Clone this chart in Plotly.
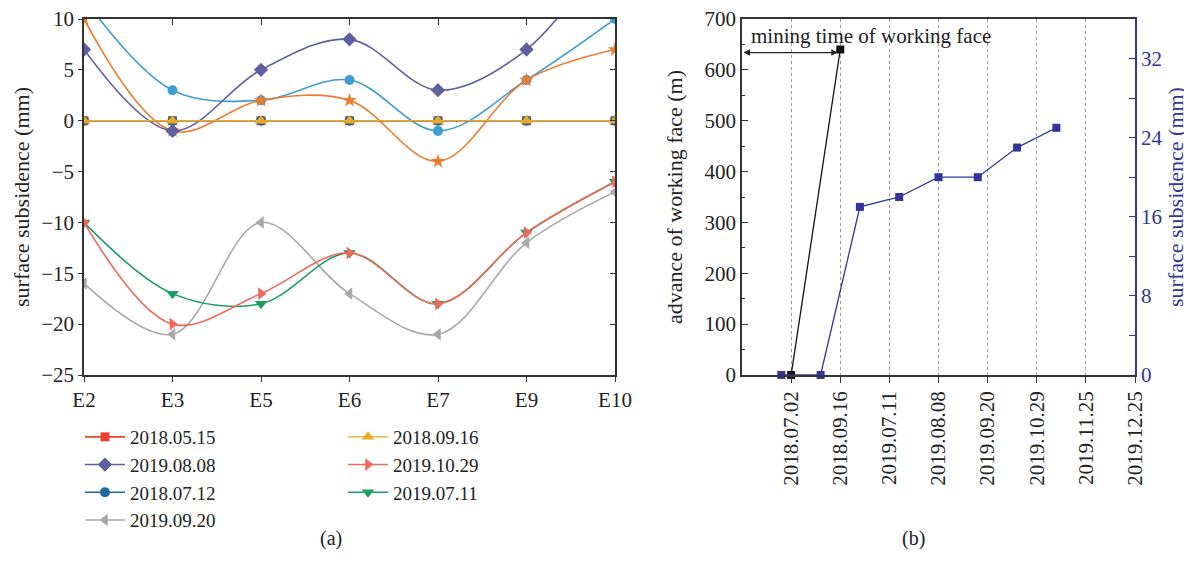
import plotly.graph_objects as go

# ---------------- data: panel (a) ----------------
points = ["E2", "E3", "E5", "E6", "E7", "E9", "E10"]
s_20180515 = [0, 0, 0, 0, 0, 0, 0]
s_20190808 = [7, -1, 5, 8, 3, 7, 18]
s_20180712 = [0, 0, 0, 0, 0, 0, 0]
s_20190920 = [-16, -21, -10, -17, -21, -12, -7]
s_20180916 = [0, 0, 0, 0, 0, 0, 0]
s_20191029 = [-10, -20, -17, -13, -18, -11, -6]
s_20190711 = [-10, -17, -18, -13, -18, -11, -6]
s_extra_blue = [12, 3, 2, 4, -1, 4, 10]
s_extra_orange = [10, -1, 2, 2, -4, 4, 7]

# ---------------- data: panel (b) ----------------
date_labels = ["2018.07.02", "2018.09.16", "2019.07.11", "2019.08.08",
               "2019.09.20", "2019.10.29", "2019.11.25", "2019.12.25"]
date_pos = [1, 2, 3, 4, 5, 6, 7, 8]
advance_x = [1.0, 2.0]
advance_m = [0, 640]
subs_x = [0.8, 1.6, 2.4, 3.2, 4.0, 4.8, 5.6, 6.4]
subs_mm = [0, 0, 17, 18, 20, 20, 23, 25]

FONT = "Liberation Serif"
AX = "#333333"
BLUE = "#333399"
TXT = "#222222"

fig = go.Figure()

def add_series(y, name, color, symbol, size, legend=None, rank=1000, show=True, width=1.6):
    fig.add_trace(go.Scatter(
        x=points, y=y, name=name, mode="lines+markers",
        line=dict(color=color, width=width, shape="spline", smoothing=1.0),
        marker=dict(symbol=symbol, size=size, color=color),
        showlegend=show, legend=legend, legendrank=rank,
        xaxis="x", yaxis="y", cliponaxis=True))

add_series(s_extra_blue, "extra1", "#3c9dd3", "circle", 10, show=False)
add_series(s_extra_orange, "extra2", "#f07a2c", "star", 11, show=False)
add_series(s_20190808, "2019.08.08", "#5f5f9f", "diamond", 11, "legend", 2)
add_series(s_20190920, "2019.09.20", "#a9a9a9", "triangle-left", 11, "legend", 4)
add_series(s_20190711, "2019.07.11", "#1a9e62", "triangle-down", 11, "legend2", 3)
add_series(s_20191029, "2019.10.29", "#f06a5c", "triangle-right", 11, "legend2", 2)
add_series(s_20180515, "2018.05.15", "#e8402a", "square", 9, "legend", 1)
add_series(s_20180712, "2018.07.12", "#1f6c9c", "circle", 10, "legend", 3)
add_series(s_20180916, "2018.09.16", "#eaaa26", "triangle-up", 11, "legend2", 1, width=1.4)

# dummy traces to anchor mirror axes
fig.add_trace(go.Scatter(x=[None], y=[None], xaxis="x3", yaxis="y", showlegend=False, hoverinfo="skip"))
fig.add_trace(go.Scatter(x=[None], y=[None], xaxis="x", yaxis="y4", showlegend=False, hoverinfo="skip"))

# panel (b)
fig.add_trace(go.Scatter(
    x=advance_x, y=advance_m, mode="lines+markers", name="advance",
    line=dict(color="#111111", width=1.3),
    marker=dict(symbol="square", size=8, color="#111111"),
    xaxis="x2", yaxis="y2", showlegend=False, cliponaxis=False))
fig.add_trace(go.Scatter(
    x=subs_x, y=subs_mm, mode="lines+markers", name="subsidence",
    line=dict(color=BLUE, width=1.3),
    marker=dict(symbol="square", size=8, color=BLUE),
    xaxis="x2", yaxis="y3", showlegend=False, cliponaxis=False))

# page has an 8px body margin: lay out in screenshot pixels
OFF = 8
W, H = 1192 - OFF, 571 - OFF
def px(v): return (v - OFF) / W
def py(v): return 1 - (v - OFF) / H

ydom = [py(375), py(19)]
tickfont = dict(family=FONT, size=21, color=TXT)
titlefont = dict(family=FONT, size=22, color=TXT)

fig.update_layout(
    width=W, height=H,
    margin=dict(l=0, r=0, t=0, b=0, autoexpand=False),
    paper_bgcolor="white", plot_bgcolor="white",
    font=dict(family=FONT, size=20, color=TXT),
    xaxis=dict(domain=[px(84), px(615)], anchor="y", type="category",
               range=[0, 6], showline=True, linecolor=AX, linewidth=1.5,
               ticks="outside", ticklen=5, tickcolor=AX, tickfont=tickfont,
               showgrid=False, zeroline=False, automargin=False,
               ticklabeloverflow="allow"),
    xaxis3=dict(overlaying="x", side="top", anchor="y", type="linear",
                range=[0, 6], tickvals=[0, 1, 2, 3, 4, 5, 6],
                showticklabels=False, showline=True, linecolor=AX, linewidth=1.5,
                ticks="inside", ticklen=6, tickcolor=AX, showgrid=False, zeroline=False,
                automargin=False),
    yaxis=dict(domain=ydom, anchor="x", range=[-25, 10], dtick=5,
               showline=True, linecolor=AX, linewidth=1.5,
               ticks="outside", ticklen=4, tickcolor=AX, tickfont=tickfont,
               showgrid=False, zeroline=False, automargin=False,
               ticklabeloverflow="allow",
               title=dict(text="surface subsidence (mm)", font=titlefont, standoff=6)),
    yaxis4=dict(overlaying="y", side="right", anchor="x", range=[-25, 10], dtick=5,
                showticklabels=False, showline=True, linecolor=AX, linewidth=1.5,
                ticks="inside", ticklen=5, tickcolor=AX, showgrid=False, zeroline=False,
                automargin=False),
    xaxis2=dict(domain=[px(742), px(1135)], anchor="y2", range=[0, 8],
                tickvals=date_pos, ticktext=date_labels, tickangle=-90,
                showline=True, mirror=True, linecolor=AX, linewidth=1.5,
                ticks="outside", ticklen=6, tickcolor=AX, tickfont=tickfont,
                showgrid=True, gridcolor="#999999", griddash="dot", gridwidth=1,
                zeroline=False, automargin=False, ticklabeloverflow="allow"),
    yaxis2=dict(domain=ydom, anchor="x2", range=[0, 700], dtick=100,
                showline=True, linecolor=AX, linewidth=1.5,
                ticks="inside", ticklen=6, tickcolor=AX, tickfont=tickfont,
                minor=dict(dtick=50, ticks="inside", ticklen=3, tickcolor=AX),
                showgrid=False, zeroline=False, automargin=False,
                ticklabeloverflow="allow",
                title=dict(text="advance of working face (m)", font=titlefont, standoff=16)),
    yaxis3=dict(overlaying="y2", side="right", anchor="x2", range=[0, 36],
                tickvals=[0, 8, 16, 24, 32],
                showline=True, linecolor=BLUE, linewidth=1.5,
                ticks="inside", ticklen=6, tickcolor=BLUE,
                tickfont=dict(family=FONT, size=21, color=BLUE),
                minor=dict(tickvals=[4, 12, 20, 28], ticks="inside", ticklen=6, tickcolor=BLUE),
                showgrid=False, zeroline=False, automargin=False,
                ticklabeloverflow="allow",
                title=dict(text="surface subsidence (mm)",
                           font=dict(family=FONT, size=22, color=BLUE), standoff=6)),
    legend=dict(x=px(80), y=py(418), xanchor="left", yanchor="top",
                orientation="v", font=dict(family=FONT, size=19, color=TXT),
                bgcolor="rgba(0,0,0,0)", itemwidth=40, tracegroupgap=0),
    legend2=dict(x=px(343), y=py(418), xanchor="left", yanchor="top",
                 orientation="v", font=dict(family=FONT, size=19, color=TXT),
                 bgcolor="rgba(0,0,0,0)", itemwidth=40, tracegroupgap=0),
    showlegend=True,
)

fig.add_annotation(x=px(318), y=py(552), xref="paper", yref="paper",
                   text="(a)", showarrow=False, font=dict(family=FONT, size=20))
fig.add_annotation(x=px(927), y=py(552), xref="paper", yref="paper",
                   text="(b)", showarrow=False, font=dict(family=FONT, size=20))

# panel (b) annotation
fig.add_annotation(x=0.15, y=666, xref="x2", yref="y2", text="mining time of working face",
                   showarrow=False, xanchor="left", yanchor="middle",
                   font=dict(family=FONT, size=21, color=TXT))
fig.add_annotation(x=1.95, y=634, ax=0, ay=634, xref="x2", yref="y2",
                   axref="x2", ayref="y2", text="", showarrow=True,
                   arrowhead=2, arrowside="end+start", arrowsize=1, arrowwidth=1.3,
                   arrowcolor=TXT)

fig.write_html("out.html")
